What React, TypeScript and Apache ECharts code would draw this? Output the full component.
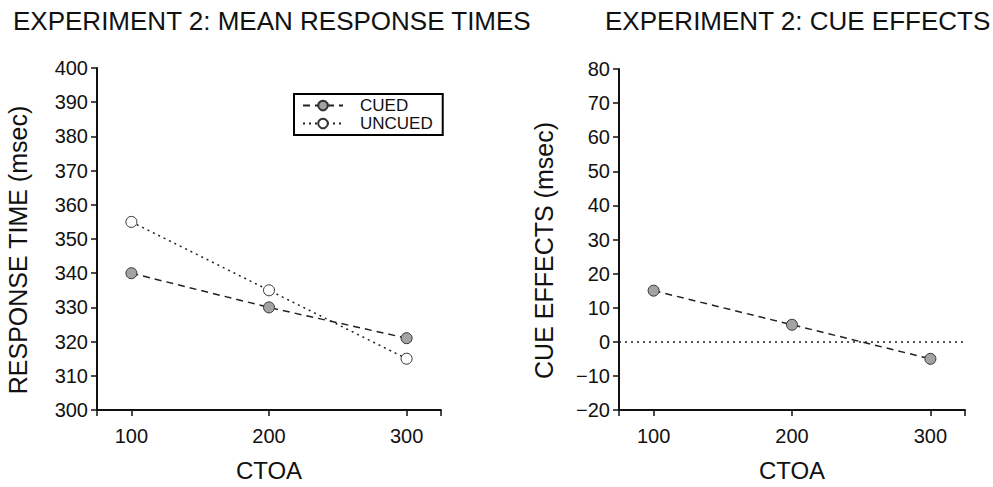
import React, { useEffect, useRef } from "react";
import * as echarts from "echarts";

const ctoa = [100, 200, 300];
const cuedRT = [340, 330, 321];
const uncuedRT = [355, 335, 315];
const cueEffects = [15, 5, -5];
const xTicks = [75, 100, 200, 300, 325];
const xLabels = [100, 200, 300];

const FONT = "Liberation Sans, Arial, Helvetica, sans-serif";
const INK = "#111";

const pairs = (xs: number[], ys: number[]) => xs.map((x, i) => [x, ys[i]]);

export default function App() {
  const ref = useRef<HTMLDivElement>(null);
  useEffect(() => {
    if (!ref.current) return;
    const chart = echarts.init(ref.current, undefined, { renderer: "svg" });

    const xAxisBase = (gridIndex: number) => ({
      type: "value",
      gridIndex,
      min: 75,
      max: 325,
      interval: 25,
      name: "CTOA",
      nameLocation: "middle",
      nameGap: 48,
      nameTextStyle: { fontFamily: FONT, fontSize: 24, color: INK },
      axisLine: { onZero: false, lineStyle: { color: INK, width: 2 } },
      axisTick: { show: true, customValues: xTicks, length: 6, lineStyle: { color: INK, width: 1.5 } },
      axisLabel: { customValues: xLabels, margin: 16, fontFamily: FONT, fontSize: 20, color: INK },
      splitLine: { show: false },
    });

    const yAxisBase = (gridIndex: number, min: number, max: number, name: string, gap: number) => ({
      type: "value",
      gridIndex,
      min,
      max,
      interval: 10,
      name,
      nameLocation: "middle",
      nameGap: gap,
      nameTextStyle: { fontFamily: FONT, fontSize: 25, color: INK, padding: [0, 22, 0, 0] },
      axisLine: { show: true, lineStyle: { color: INK, width: 2 } },
      axisTick: { show: true, length: 6, lineStyle: { color: INK, width: 1.5 } },
      axisLabel: {
        margin: 9,
        fontFamily: FONT,
        fontSize: 20,
        color: INK,
        formatter: (v: number) => String(v).replace("-", "\u2212"),
      },
      splitLine: { show: false },
    });

    const dashed = { color: "#222", width: 1.5, type: [7, 5] };
    const dotted = { color: "#222", width: 1.5, type: [2, 4] };
    const greyMarker = { color: "#a3a3a3", borderColor: "#333", borderWidth: 1 };
    const whiteMarker = { color: "#ffffff", borderColor: "#333", borderWidth: 1 };

    chart.setOption({
      animation: false,
      backgroundColor: "#ffffff",
      title: [
        {
          text: "EXPERIMENT 2: MEAN RESPONSE TIMES",
          left: 8,
          top: 3,
          textStyle: { fontFamily: FONT, fontSize: 26, fontWeight: "normal", color: INK },
        },
        {
          text: "EXPERIMENT 2: CUE EFFECTS",
          left: 600,
          top: 3,
          textStyle: { fontFamily: FONT, fontSize: 26, fontWeight: "normal", color: INK },
        },
      ],
      legend: {
        data: ["CUED", "UNCUED"],
        orient: "vertical",
        left: 294,
        top: 94,
        padding: [3, 10, 3, 8],
        itemGap: 1,
        itemWidth: 40,
        itemHeight: 12,
        borderColor: "#000",
        borderWidth: 2,
        borderRadius: 0,
        backgroundColor: "#fff",
        textStyle: { fontFamily: FONT, fontSize: 17, color: INK, padding: [0, 0, 0, 12] },
      },
      grid: [
        { left: 97, top: 68, width: 344, height: 345 },
        { left: 619, top: 69, width: 346, height: 344 },
      ],
      xAxis: [xAxisBase(0), xAxisBase(1)],
      yAxis: [
        yAxisBase(0, 300, 400, "RESPONSE TIME (msec)", 67),
        yAxisBase(1, -20, 80, "CUE EFFECTS (msec)", 63),
      ],
      series: [
        {
          name: "CUED",
          type: "line",
          xAxisIndex: 0,
          yAxisIndex: 0,
          data: pairs(ctoa, cuedRT),
          symbol: "circle",
          symbolSize: 11,
          lineStyle: dashed,
          itemStyle: greyMarker,
          z: 3,
        },
        {
          name: "UNCUED",
          type: "line",
          xAxisIndex: 0,
          yAxisIndex: 0,
          data: pairs(ctoa, uncuedRT),
          symbol: "circle",
          symbolSize: 11,
          lineStyle: dotted,
          itemStyle: whiteMarker,
          z: 2,
        },
        {
          name: "CUE EFFECT",
          type: "line",
          xAxisIndex: 1,
          yAxisIndex: 1,
          data: pairs(ctoa, cueEffects),
          symbol: "circle",
          symbolSize: 11,
          lineStyle: dashed,
          itemStyle: greyMarker,
          z: 3,
          markLine: {
            silent: true,
            symbol: "none",
            label: { show: false },
            lineStyle: { color: "#222", width: 1.5, type: [2, 4] },
            data: [{ yAxis: 0 }],
            z: 1,
          },
        },
      ],
    });
    return () => chart.dispose();
  }, []);

  return (
    <div
      ref={ref}
      style={{ position: "fixed", left: 0, top: 0, width: 993, height: 487, background: "#fff" }}
    />
  );
}
